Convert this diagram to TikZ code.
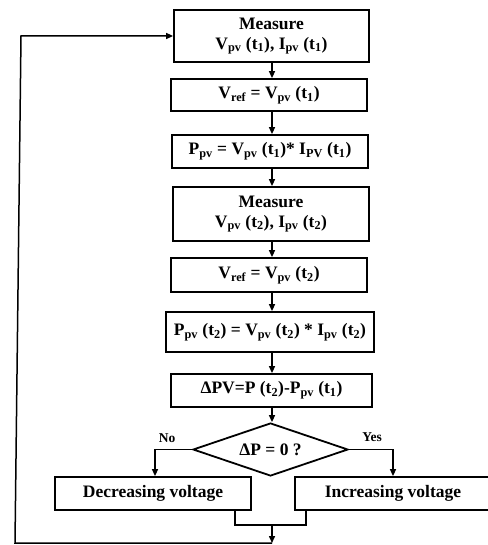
\documentclass[tikz,border=0pt]{standalone}
\usepackage{fontspec}
\setmainfont{Liberation Serif}
\usetikzlibrary{shapes.geometric,arrows.meta}
\newcommand{\sbs}[1]{\textsubscript{#1}}
\tikzset{
  box/.style={draw, line width=1.8pt, inner sep=0pt, align=center, font=\bfseries\fontsize{17.5}{20}\selectfont},
  arr/.style={line width=1.5pt, -{Triangle[length=7pt,width=6pt]}},
  ln/.style={line width=1.5pt},
  lbl/.style={font=\bfseries\fontsize{13.5}{15}\selectfont, inner sep=0pt},
}
\begin{document}
\begin{tikzpicture}[x=1pt,y=-1pt]
\useasboundingbox (0,0) rectangle (487,545);
\node[box, minimum width=195pt, minimum height=52pt] (b1) at (271.5,36) {Measure\\V\sbs{pv} (t\sbs{1}), I\sbs{pv} (t\sbs{1})};
\node[box, minimum width=196pt, minimum height=32pt] (b2) at (269,95) {V\sbs{ref} = V\sbs{pv} (t\sbs{1})};
\node[box, minimum width=196pt, minimum height=33pt] (b3) at (270,151.5) {P\sbs{pv} = V\sbs{pv} (t\sbs{1})* I\sbs{PV} (t\sbs{1})};
\node[box, minimum width=196pt, minimum height=54pt] (b4) at (271,214) {Measure\\V\sbs{pv} (t\sbs{2}), I\sbs{pv} (t\sbs{2})};
\node[box, minimum width=196pt, minimum height=34pt] (b5) at (269,275) {V\sbs{ref} = V\sbs{pv} (t\sbs{2})};
\node[box, minimum width=208pt, minimum height=40pt] (b6) at (270,332) {P\sbs{pv} (t\sbs{2}) = V\sbs{pv} (t\sbs{2}) * I\sbs{pv} (t\sbs{2})};
\node[box, minimum width=201pt, minimum height=33pt] (b7) at (271.5,390.5) {ΔPV=P (t\sbs{2})-P\sbs{pv} (t\sbs{1})};
\node[box, diamond, aspect=3, minimum width=155pt, minimum height=53pt] (dia) at (270.5,449.5) {ΔP = 0 ?};
\node[box, minimum width=196pt, minimum height=33pt] (dec) at (153,493.5) {Decreasing voltage};
\node[box, minimum width=196pt, minimum height=33pt] (inc) at (393,493.5) {Increasing voltage};
\node[lbl] (no) at (167,438) {No};
\node[lbl] (yes) at (372,437) {Yes};
\coordinate (col) at (272,0);
\draw[arr] (b1.south -| col) -- (b2.north -| col);
\draw[arr] (b2.south -| col) -- (b3.north -| col);
\draw[arr] (b3.south -| col) -- (b4.north -| col);
\draw[arr] (b4.south -| col) -- (b5.north -| col);
\draw[arr] (b5.south -| col) -- (b6.north -| col);
\draw[arr] (b6.south -| col) -- (b7.north -| col);
\draw[arr] (b7.south -| col) -- (dia.north -| col);
\coordinate (lx) at (155,0);
\draw[arr] (dia.west) -| (dec.north -| lx);
\draw[arr] (dia.east) -| (inc.north);
\coordinate (m1) at (235,525);
\coordinate (m2) at (306,525);
\coordinate (mid) at (272,525);
\coordinate (bot) at (272,543);
\coordinate (bl) at (15,543);
\coordinate (tl) at (21,36);
\draw[ln] (dec.south -| m1) -- (m1) -- (m2) -- (inc.south -| m2);
\draw[arr] (mid) -- (bot);
\draw[arr] (bot) -- (bl) -- (tl) -- (b1.west);
\end{tikzpicture}
\end{document}
